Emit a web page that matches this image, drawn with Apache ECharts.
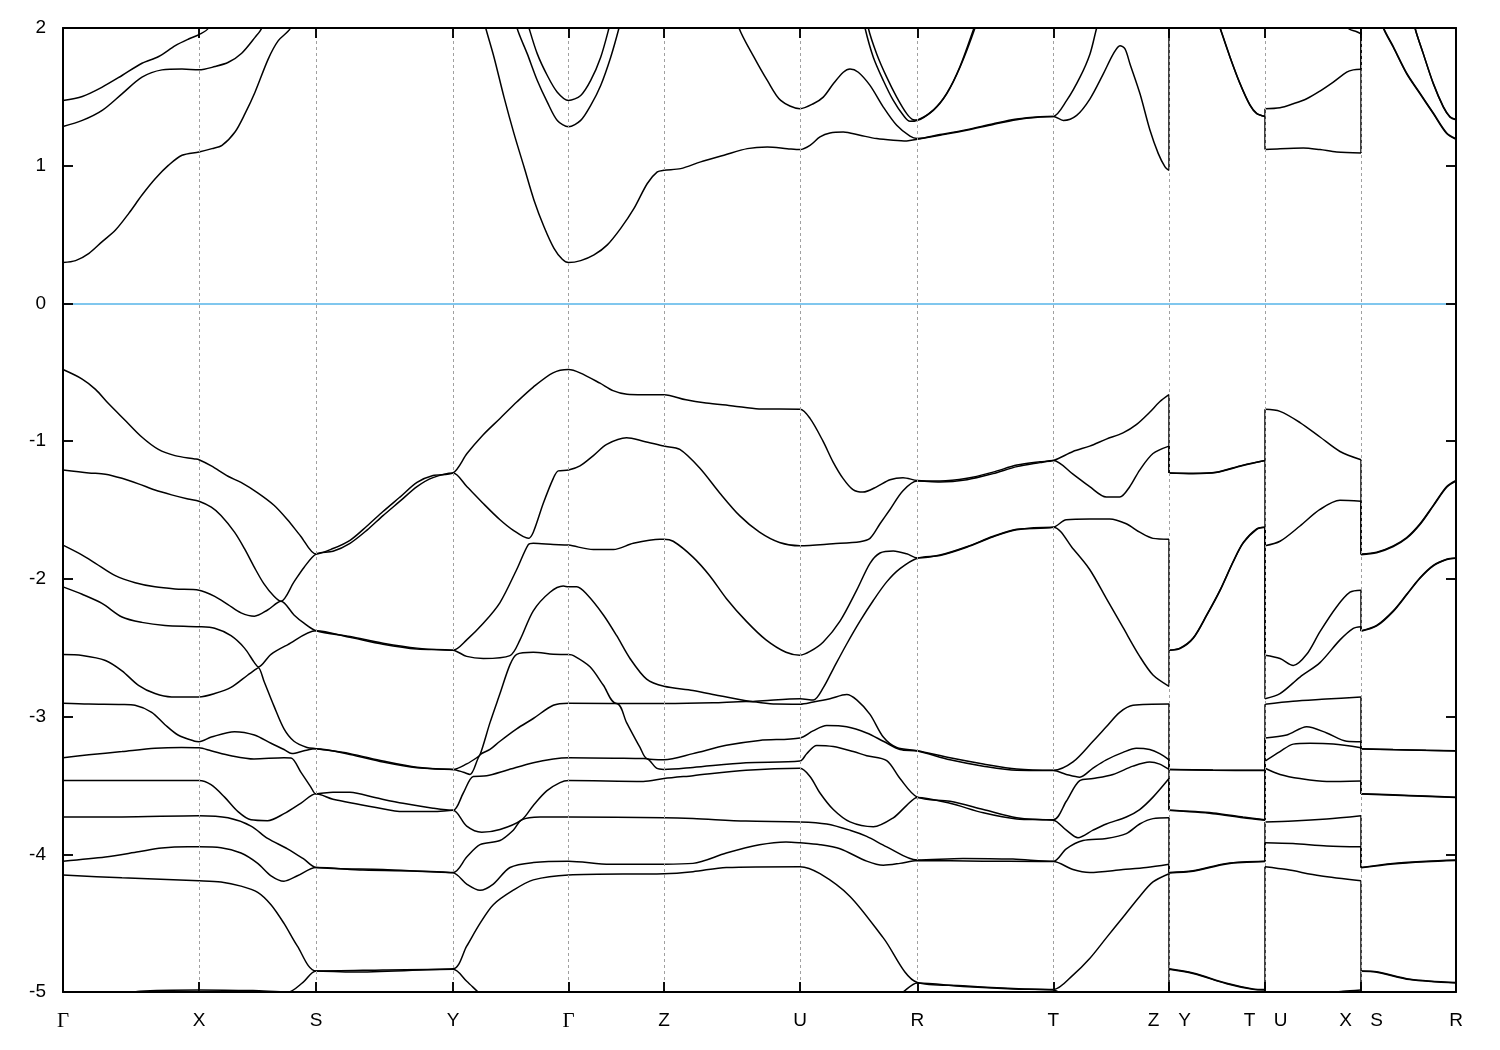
<!DOCTYPE html>
<html><head><meta charset="utf-8">
<script src="https://cdn.jsdelivr.net/npm/echarts@6/dist/echarts.min.js"></script>
<style>html,body{margin:0;padding:0;background:#fff;}#chart{width:1500px;height:1050px;}</style>
</head><body><div id="chart"></div>
<script>
// k-path coordinates of high-symmetry points
const kTicks = [0,136,253,390,505.5,601,737,854.3,990.3,1106,1202,1298,1393];
const kLabelPos = [0,136,253,390,505.5,601,737,854.3,990.3,1090.5,1121.5,1186.5,1217.5,1282.5,1313.5,1393];
const kLabels = ['Γ','X','S','Y','Γ','Z','U','R','T','Z','Y','T','U','X','S','R'];
const eTicks = [-4,-3,-2,-1,0,1];
const eMin = -5, eMax = 2;

// valence bands [k, E (eV)]
const v1 = [[0,-0.48],[19.2,-0.549],[32.5,-0.624],[45.7,-0.729],[62.3,-0.85],[78.8,-0.97],[95.4,-1.06],[112,-1.105],[131.8,-1.129],[136,-1.135],[148.3,-1.18],[165,-1.255],[178,-1.3],[194.7,-1.376],[211,-1.466],[224.5,-1.571],[237.7,-1.69],[253,-1.82],
[270,-1.78],[287,-1.72],[304,-1.616],[320,-1.511],[337,-1.406],[354,-1.3],[370,-1.25],[390,-1.231],
[404,-1.09],[420,-0.955],[437,-0.835],[454,-0.714],[470,-0.609],[490,-0.504],[505.5,-0.48],
[517,-0.504],[537,-0.579],[550,-0.633],[564,-0.66],[580,-0.663],[601,-0.663],[623,-0.7],[643,-0.723],[670,-0.744],[696,-0.766],[737,-0.769],
[747,-0.835],[760,-1.0],[770,-1.15],[780,-1.27],[790,-1.352],[800,-1.37],[814,-1.33],[827,-1.28],[840,-1.265],[854.3,-1.286],
[877,-1.29],[904,-1.27],[930,-1.225],[954,-1.174],[977,-1.15],[990.3,-1.141],
[1010,-1.075],[1026.7,-1.036],[1043.3,-0.985],[1060,-0.94],[1073.3,-0.88],[1086.7,-0.79],[1096.7,-0.714],[1106,-0.663],
[1106,-1.231],[1130,-1.234],[1153,-1.226],[1180,-1.174],[1202,-1.141],
[1202,-0.769],[1217,-0.784],[1237,-0.865],[1257,-0.97],[1277,-1.075],[1298,-1.135],
[1298,-1.82],[1313.7,-1.806],[1330.3,-1.76],[1343.7,-1.70],[1357,-1.6],[1370.3,-1.466],[1383.7,-1.33],[1393,-1.286]];
const v2 = [[0,-1.21],[25.8,-1.231],[42.4,-1.24],[59,-1.27],[75.5,-1.31],[92,-1.355],[108.6,-1.39],[125,-1.42],[136,-1.436],[148.3,-1.48],[158,-1.54],[171.5,-1.661],[181.5,-1.781],[191.4,-1.917],[201,-2.037],[211,-2.127],[218,-2.163],[231,-2.022],[241,-1.917],[253,-1.82],
[270,-1.80],[287,-1.742],[304,-1.646],[320,-1.541],[337,-1.436],[354,-1.33],[370,-1.265],[390,-1.231],
[404,-1.331],[420,-1.451],[437,-1.571],[450,-1.646],[465.3,-1.706],[470.3,-1.661],[480.3,-1.451],[490.3,-1.27],[495.3,-1.216],[505.5,-1.21],
[517,-1.18],[530.4,-1.105],[543.7,-1.024],[563.6,-0.976],[580.3,-1.0],[601,-1.036],[616.8,-1.06],[636.7,-1.195],[656.7,-1.376],[676.6,-1.541],[696.5,-1.661],[716.5,-1.736],[737,-1.76],
[770,-1.745],[797,-1.73],[807,-1.706],[817,-1.6],[827,-1.496],[840,-1.36],[854.3,-1.29],
[877,-1.297],[904,-1.28],[930,-1.236],[954,-1.185],[977,-1.156],[990.3,-1.141],
[1010,-1.24],[1026.7,-1.331],[1043.3,-1.406],[1056.7,-1.406],[1066.7,-1.331],[1076.7,-1.21],[1090,-1.09],[1106,-1.036],
[1106,-1.231],[1130,-1.236],[1153,-1.228],[1180,-1.177],[1202,-1.141],
[1202,-1.76],[1217,-1.727],[1237,-1.616],[1257,-1.496],[1277,-1.43],[1298,-1.436],
[1298,-1.825],[1313.7,-1.81],[1330.3,-1.765],[1343.7,-1.705],[1357,-1.605],[1370.3,-1.47],[1383.7,-1.335],[1393,-1.29]];
const v3 = [[0,-1.755],[19.2,-1.827],[32.5,-1.887],[52.3,-1.977],[72.2,-2.028],[92,-2.058],[112,-2.073],[136,-2.082],[151.7,-2.127],[165,-2.187],[178,-2.247],[191.4,-2.271],[204.6,-2.226],[218,-2.163],[231,-2.262],[241,-2.322],[253,-2.377],
[287,-2.419],[320,-2.467],[354,-2.503],[390,-2.518],
[403.7,-2.443],[420.3,-2.323],[437,-2.172],[453.7,-1.932],[465.3,-1.751],[470.3,-1.742],[490.3,-1.751],[505.5,-1.755],
[530.4,-1.787],[550.4,-1.787],[570.3,-1.742],[597,-1.712],[601,-1.712],[610.2,-1.727],[630,-1.842],[646.7,-1.977],[663.3,-2.142],[683.2,-2.307],[703,-2.443],[723,-2.533],[737,-2.554],
[747,-2.527],[760.3,-2.458],[777,-2.307],[793.7,-2.082],[807,-1.887],[817,-1.812],[830.3,-1.797],[843.7,-1.818],[854.3,-1.848],
[877,-1.827],[903.7,-1.767],[930.3,-1.691],[953.7,-1.64],[990.3,-1.625],
[1003.3,-1.571],[1026.7,-1.565],[1046.7,-1.565],[1063.3,-1.60],[1076.7,-1.661],[1090,-1.706],[1106,-1.712],
[1106,-2.518],[1117,-2.503],[1130.3,-2.428],[1143.7,-2.262],[1157,-2.082],[1170.3,-1.872],[1180.3,-1.736],[1193.7,-1.637],[1202,-1.625],
[1202,-2.554],[1217,-2.578],[1230.3,-2.629],[1243.7,-2.548],[1257,-2.383],[1273.7,-2.202],[1287,-2.097],[1298,-2.082],
[1298,-2.377],[1313.7,-2.338],[1330.3,-2.232],[1343.7,-2.112],[1357,-1.992],[1370.3,-1.902],[1383.7,-1.857],[1393,-1.848]];
const v4 = [[0,-2.058],[19.2,-2.112],[39,-2.178],[59,-2.277],[78.8,-2.316],[102,-2.338],[136,-2.347],[151.7,-2.359],[168,-2.413],[181.5,-2.503],[191.4,-2.608],[195.4,-2.64],[208,-2.548],[224.5,-2.479],[253,-2.377],
[287,-2.425],[320,-2.475],[354,-2.51],[390,-2.518],
[403.7,-2.563],[420.3,-2.578],[447,-2.557],[457,-2.443],[470.3,-2.232],[487,-2.097],[500.3,-2.052],[505.5,-2.058],
[513.8,-2.058],[523.8,-2.112],[540.4,-2.262],[553.7,-2.413],[567,-2.578],[583.6,-2.728],[601,-2.78],[630,-2.81],[656.7,-2.849],[683,-2.885],[690,-2.89],[700,-2.885],[737,-2.87],
[750.3,-2.88],[760.3,-2.79],[770.3,-2.653],[783.7,-2.473],[797,-2.307],[810.3,-2.157],[823.7,-2.022],[837,-1.926],[854.3,-1.85],
[877,-1.83],[903.7,-1.77],[930.3,-1.694],[953.7,-1.643],[990.3,-1.625],
[1010,-1.781],[1026.7,-1.932],[1043.3,-2.142],[1060,-2.353],[1076.7,-2.563],[1090,-2.698],[1106,-2.78],
[1106,-2.518],[1117,-2.506],[1130.3,-2.431],[1143.7,-2.265],[1157,-2.085],[1170.3,-1.875],[1180.3,-1.739],[1193.7,-1.64],[1202,-1.625],
[1202,-2.87],[1217,-2.833],[1237,-2.713],[1257,-2.608],[1277,-2.443],[1290.3,-2.359],[1298,-2.347],
[1298,-2.38],[1313.7,-2.342],[1330.3,-2.236],[1343.7,-2.116],[1357,-1.996],[1370.3,-1.906],[1383.7,-1.86],[1393,-1.85]];
const v5 = [[0,-2.55],[19.2,-2.557],[42.4,-2.593],[59,-2.668],[75.5,-2.773],[92,-2.833],[108.6,-2.857],[136,-2.857],[151.7,-2.833],[168,-2.788],[184.8,-2.698],[193,-2.655],[195.4,-2.645],[201,-2.743],[211,-2.924],[221,-3.089],[231,-3.179],[244,-3.224],[253,-3.233],
[287,-3.269],[320,-3.323],[354,-3.368],[390,-3.384],
[403.7,-3.344],[413.7,-3.299],[417,-3.278],[427,-3.044],[437,-2.833],[447,-2.623],[453.7,-2.548],[470.3,-2.533],[490.3,-2.548],[505.5,-2.55],
[510.5,-2.557],[527,-2.638],[540.4,-2.773],[553.5,-2.905],[601,-2.905],[650,-2.9],[683,-2.89],[690,-2.893],[713,-2.909],[737,-2.91],
[750.3,-2.894],[767,-2.87],[783.7,-2.84],[793.7,-2.879],[807,-2.984],[820.3,-3.149],[833.7,-3.225],[854.3,-3.248],
[887,-3.299],[920.3,-3.344],[953.7,-3.381],[990.3,-3.39],
[1010,-3.329],[1030,-3.179],[1043.3,-3.074],[1056.7,-2.969],[1070,-2.918],[1106,-2.909],
[1106,-3.384],[1150,-3.388],[1202,-3.39],
[1202,-2.91],[1230,-2.888],[1263,-2.873],[1298,-2.857],
[1298,-3.233],[1330,-3.24],[1363,-3.245],[1393,-3.248]];
const v6 = [[0,-2.903],[25.8,-2.909],[59,-2.912],[72,-2.918],[88.7,-2.969],[102,-3.059],[115,-3.134],[131.8,-3.179],[136,-3.182],[148.3,-3.149],[171.5,-3.11],[191.4,-3.134],[208,-3.194],[221,-3.239],[229,-3.269],[241,-3.248],[253,-3.233],
[287,-3.275],[320,-3.33],[354,-3.372],[390,-3.384],
[400.3,-3.404],[407,-3.42],[417,-3.278],[427,-3.239],[437,-3.179],[453.7,-3.089],[470.3,-3.014],[490.3,-2.918],[505.5,-2.903],
[553.5,-2.905],[563.6,-3.044],[577,-3.224],[584,-3.306],[601,-3.314],[630,-3.269],[663.3,-3.209],[696.5,-3.173],[737,-3.155],
[750,-3.104],[763.7,-3.065],[783.7,-3.074],[803.7,-3.119],[820.3,-3.179],[837,-3.239],[854.3,-3.25],
[887,-3.314],[920.3,-3.36],[953.7,-3.39],[990.3,-3.392],
[1003.3,-3.42],[1016.7,-3.44],[1030,-3.374],[1043.3,-3.314],[1060,-3.26],[1073.3,-3.23],[1086.7,-3.239],[1096.7,-3.269],[1106,-3.314],
[1106,-3.384],[1150,-3.39],[1202,-3.392],
[1202,-3.155],[1223.7,-3.134],[1243.7,-3.074],[1263.7,-3.119],[1283.7,-3.179],[1298,-3.182],
[1298,-3.236],[1393,-3.25]];
const v7 = [[0,-3.299],[25.8,-3.278],[59,-3.254],[92,-3.23],[118.5,-3.224],[136,-3.227],[148,-3.248],[168,-3.284],[191,-3.308],[221,-3.299],[228,-3.3],[238,-3.405],[247.7,-3.51],[253,-3.561],
[270,-3.549],[287,-3.55],[313,-3.59],[340,-3.63],[370,-3.665],[390,-3.681],
[400.3,-3.555],[410.3,-3.435],[423.7,-3.43],[443.7,-3.39],[470.3,-3.335],[490.3,-3.308],[505.5,-3.299],
[580.3,-3.305],[584,-3.306],[593.5,-3.375],[601,-3.384],[630,-3.369],[683,-3.335],[737,-3.323],
[743.7,-3.27],[753.7,-3.21],[770.3,-3.218],[790.3,-3.254],[803.7,-3.284],[823.7,-3.32],[837,-3.45],[854.3,-3.585],
[887,-3.615],[920.3,-3.675],[953.7,-3.735],[990.3,-3.75],
[1003.3,-3.615],[1016.7,-3.465],[1030,-3.45],[1050,-3.42],[1070,-3.36],[1086.7,-3.33],[1096.7,-3.345],[1106,-3.384],
[1106,-3.681],[1150,-3.7],[1180,-3.73],[1202,-3.75],
[1202,-3.323],[1217,-3.254],[1230.3,-3.2],[1247,-3.194],[1270.3,-3.2],[1298,-3.227],
[1298,-3.561],[1330,-3.568],[1363,-3.577],[1393,-3.585]];
const v8 = [[0,-3.465],[59,-3.465],[136,-3.465],[148,-3.495],[161.6,-3.585],[175,-3.69],[188,-3.75],[204.6,-3.756],[221,-3.705],[237.7,-3.63],[253,-3.561],
[270,-3.6],[313,-3.66],[340,-3.69],[370,-3.69],[390,-3.681],
[403.7,-3.796],[418.7,-3.84],[437,-3.82],[458.7,-3.75],[470.3,-3.645],[483.7,-3.54],[497,-3.48],[505.5,-3.465],
[580.3,-3.471],[601,-3.45],[630,-3.429],[683,-3.39],[737,-3.375],
[747,-3.435],[757,-3.555],[770.3,-3.675],[787,-3.765],[810.3,-3.80],[830.3,-3.735],[843.7,-3.645],[854.3,-3.587],
[887,-3.63],[920.3,-3.699],[953.7,-3.744],[990.3,-3.752],
[1003.3,-3.825],[1015,-3.88],[1030,-3.825],[1043.3,-3.78],[1063.3,-3.729],[1076.7,-3.675],[1090,-3.585],[1106,-3.45],
[1106,-3.681],[1150,-3.705],[1180,-3.735],[1202,-3.752],
[1202,-3.375],[1217,-3.42],[1237,-3.45],[1263.7,-3.471],[1298,-3.467],
[1298,-3.563],[1393,-3.587]];
const v9 = [[0,-3.729],[59,-3.729],[136,-3.72],[165,-3.735],[188,-3.795],[204.6,-3.885],[224.5,-3.96],[241,-4.036],[253,-4.096],
[320,-4.11],[390,-4.132],
[403.7,-4.02],[417,-3.93],[437,-3.9],[450.3,-3.825],[458.7,-3.75],[477,-3.729],[505.5,-3.729],
[601,-3.735],[630,-3.741],[683,-3.759],[737,-3.765],
[763.7,-3.78],[787,-3.825],[803.7,-3.87],[823.7,-3.946],[854.3,-4.042],
[900,-4.03],[950,-4.035],[990.3,-4.051],
[1003.3,-3.96],[1020,-3.9],[1043.3,-3.885],[1063.3,-3.85],[1076.7,-3.78],[1090,-3.741],[1106,-3.735],
[1106,-4.132],[1130,-4.12],[1163.7,-4.066],[1202,-4.051],
[1202,-3.765],[1230,-3.759],[1263.7,-3.744],[1298,-3.72],
[1298,-4.096],[1330,-4.066],[1363,-4.051],[1393,-4.042]];
const v10 = [[0,-4.05],[42.4,-4.02],[75.5,-3.982],[98.7,-3.955],[125,-3.946],[136,-3.946],[158,-3.952],[178,-3.991],[194.7,-4.066],[208,-4.156],[221,-4.195],[234.4,-4.156],[253,-4.096],
[300,-4.115],[390,-4.135],
[403.7,-4.216],[417,-4.261],[430.3,-4.216],[447,-4.096],[470.3,-4.06],[505.5,-4.05],
[547,-4.072],[601,-4.072],[630,-4.066],[663.3,-3.991],[696.5,-3.931],[723,-3.91],[737,-3.916],
[757,-3.93],[777,-3.96],[803.7,-4.05],[820.3,-4.08],[837,-4.066],[854.3,-4.045],
[920,-4.05],[990.3,-4.053],
[1010,-4.111],[1026.7,-4.132],[1060,-4.111],[1083.3,-4.096],[1106,-4.072],
[1106,-4.135],[1130,-4.123],[1163.7,-4.07],[1202,-4.053],
[1202,-3.916],[1230,-3.922],[1263.7,-3.94],[1298,-3.946],
[1298,-4.098],[1330,-4.07],[1363,-4.054],[1393,-4.045]];
const v11 = [[0,-4.15],[59,-4.171],[136,-4.192],[158,-4.201],[178,-4.231],[194.7,-4.276],[208,-4.366],[221,-4.502],[234.4,-4.667],[253,-4.847],
[320,-4.84],[390,-4.832],
[403.7,-4.667],[417,-4.502],[430.3,-4.366],[450.3,-4.261],[470.3,-4.186],[505.5,-4.15],
[601,-4.141],[630,-4.126],[663.3,-4.096],[737,-4.09],
[757,-4.141],[787,-4.306],[820.3,-4.607],[854.3,-4.931],
[900,-4.955],[950,-4.975],[990.3,-4.982],
[1010,-4.877],[1026.7,-4.757],[1043.3,-4.607],[1060,-4.457],[1076.7,-4.306],[1090,-4.201],[1106,-4.141],
[1106,-4.832],[1130,-4.862],[1163.7,-4.937],[1190,-4.978],[1202,-4.982],
[1202,-4.09],[1223.7,-4.111],[1257,-4.156],[1298,-4.192],
[1298,-4.847],[1313.7,-4.853],[1347,-4.907],[1393,-4.931]];
const v12 = [[0,-5.15],[50,-5.04],[77,-4.995],[136,-4.985],[190,-4.99],[225,-5.0],[240,-4.93],[253,-4.847],
[290,-4.855],[390,-4.835],
[403.7,-4.922],[415,-5.0],[430,-5.1],[460,-5.2],[505.5,-5.25],
[601,-5.3],[737,-5.3],
[800,-5.2],[840,-5.0],[854.3,-4.935],
[900,-4.96],[950,-4.978],[990.3,-4.985],
[1000,-5.02],[1030,-5.15],[1106,-5.3],
[1106,-4.835],[1130,-4.865],[1163.7,-4.94],[1190,-4.981],[1202,-4.985],
[1202,-5.3],[1240,-5.1],[1263,-5.01],[1280,-4.995],[1298,-4.985],
[1298,-4.85],[1313.7,-4.856],[1347,-4.91],[1393,-4.935]];

// conduction bands
const c1 = [[0,0.297],[12.6,0.311],[26,0.364],[39.2,0.449],[52.5,0.533],[65.8,0.654],[79,0.787],[92.4,0.907],[105.6,1.004],[119,1.076],[136,1.1],[149,1.124],[159,1.148],[172,1.245],[182,1.378],[192,1.534],[205.3,1.776],[215.3,1.908],[227,1.993],[240,2.2],[253,2.4],
[390,2.6],
[410,2.35],[422.7,2.0],[431,1.788],[441,1.498],[451,1.233],[461,0.992],[471,0.75],[481,0.557],[491,0.4],[499.3,0.321],[505.5,0.297],[517.7,0.311],[531,0.352],[544.3,0.425],[557.7,0.545],[571,0.69],[584.3,0.871],[594.3,0.955],[601,0.967],[617.7,0.979],[637.7,1.028],[661,1.076],[684.3,1.124],[704.3,1.136],[724.3,1.124],[737,1.117],
[747,1.148],[757,1.209],[767,1.238],[780.3,1.245],[797,1.221],[813.7,1.197],[830.3,1.185],[843.7,1.18],[854.3,1.192],
[877,1.221],[903.7,1.257],[930.3,1.3],[953.7,1.334],[977,1.353],[990.3,1.358],
[1000.3,1.329],[1013.7,1.366],[1027,1.486],[1040.3,1.667],[1050.3,1.812],[1057,1.872],[1062,1.848],[1067,1.739],[1077,1.522],[1087,1.257],[1095.3,1.088],[1102,0.992],[1106,0.967],
[1106,2.6],[1140,2.36],[1157,2.0],[1167,1.788],[1177,1.595],[1187,1.438],[1193.7,1.378],[1202,1.358],
[1202,1.117],[1217,1.124],[1240.3,1.129],[1257,1.117],[1273.7,1.1],[1298,1.093],
[1298,2.6],[1310,2.25],[1320.3,2.0],[1330.3,1.86],[1343.7,1.667],[1357,1.522],[1370.3,1.378],[1383.7,1.233],[1393,1.192]];
const c2 = [[0,1.285],[19.3,1.329],[39.2,1.402],[59,1.522],[79,1.643],[99,1.696],[119,1.703],[136,1.696],[152,1.72],[165.4,1.751],[178.7,1.817],[192,1.932],[198.7,2.0],[210,2.3],[253,2.8],
[390,2.8],
[440,2.4],[454,2.0],[464.3,1.812],[474.3,1.619],[484.3,1.462],[494.3,1.329],[505.5,1.283],[517.7,1.329],[527.7,1.438],[537.7,1.583],[547.7,1.788],[556,2.0],[570,2.4],
[601,2.6],[660,2.4],[676,2.0],[691,1.788],[704.3,1.619],[717.7,1.474],[737,1.414],
[750.3,1.45],[760.3,1.498],[770.3,1.595],[780.3,1.679],[787,1.703],[795.3,1.679],[807,1.583],[820.3,1.426],[833.7,1.293],[847,1.214],[854.3,1.197],
[877,1.226],[903.7,1.262],[930.3,1.305],[953.7,1.339],[977,1.356],[990.3,1.358],
[1003.7,1.474],[1017,1.643],[1027,1.812],[1033.7,2.0],[1050,2.4],[1106,2.8],
[1106,2.8],[1140,2.37],[1157,2.003],[1167,1.79],[1177,1.598],[1187,1.441],[1193.7,1.38],[1202,1.358],
[1202,1.414],[1217,1.421],[1230.3,1.45],[1243.7,1.486],[1257,1.542],[1270.3,1.607],[1283.7,1.679],[1290.3,1.696],[1298,1.701],
[1298,2.8],[1310,2.255],[1320.3,2.005],[1330.3,1.865],[1343.7,1.672],[1357,1.527],[1370.3,1.383],[1383.7,1.238],[1393,1.197]];
const c3 = [[0,1.474],[19.3,1.503],[39.2,1.571],[59,1.655],[79,1.744],[95.7,1.793],[112.3,1.872],[125.6,1.92],[136,1.952],[145.5,2.0],[170,2.4],[253,3.0],
[390,3.0],
[450,2.4],[466,2.0],[474.3,1.812],[484.3,1.655],[494.3,1.534],[505.5,1.474],[517.7,1.51],[527.7,1.619],[537.7,1.788],[546,2.0],[560,2.4],
[737,3.0],[790,2.4],[802,2.0],[810.3,1.788],[820.3,1.619],[830.3,1.474],[840.3,1.366],[847,1.322],[854.3,1.33],
[870.3,1.402],[883.7,1.522],[897,1.715],[912,2.0],[930,2.4],[990.3,3.0],
[1106,3.0],[1202,3.0],
[1270,2.4],[1285.3,2.0],[1293.7,1.973],[1298,1.957],
[1298,3.0],[1340,2.4],[1352,2.0],[1360.3,1.812],[1370.3,1.595],[1380.3,1.426],[1387,1.353],[1393,1.334]];
const c4 = [[0,3.2],[505.5,3.2],[737,3.2],[795,2.4],[805.3,2.0],[813.7,1.812],[823.7,1.643],[833.7,1.498],[843.7,1.378],[850.3,1.334],[854.3,1.332],
[870.3,1.405],[883.7,1.525],[897,1.72],[911,2.0],[930,2.4],[990.3,3.2],
[1106,3.2],[1202,3.2],[1298,3.2],
[1340,2.4],[1352,2.0],[1360.3,1.814],[1370.3,1.598],[1380.3,1.429],[1387,1.356],[1393,1.336]];

const bands = [v1,v2,v3,v4,v5,v6,v7,v8,v9,v10,v11,v12,c1,c2,c3,c4];

const SANS = "'Liberation Sans',Arial,sans-serif";
const SERIF = "'Liberation Serif','DejaVu Serif',serif";
const chart = echarts.init(document.getElementById('chart'), null, {renderer:'canvas'});

const GRID = {left:63, right:44, top:28, bottom:58};
const plotW = 1500 - GRID.left - GRID.right, plotH = 1050 - GRID.top - GRID.bottom;
const kMax = kTicks[kTicks.length-1];
const TICK_PX = 10;
const tickK = TICK_PX * kMax / plotW, tickE = TICK_PX * (eMax - eMin) / plotH;

// split each band into continuous pieces; path discontinuities become straight vertical joins
const series = [];
const lineBase = {type:'line', showSymbol:false, symbol:'none', clip:true, silent:true, z:3, animation:false,
                  lineStyle:{color:'#000', width:1.5}};
bands.forEach(b => {
  let cur = [b[0]];
  for (let i = 1; i < b.length; i++) {
    if (b[i][0] === b[i-1][0]) {
      series.push(Object.assign({}, lineBase, {data:cur, smooth:0.3}));
      series.push(Object.assign({}, lineBase, {data:[b[i-1], b[i]], smooth:false}));
      cur = [b[i]];
    } else cur.push(b[i]);
  }
  series.push(Object.assign({}, lineBase, {data:cur, smooth:0.3}));
});
// dashed guides at the high-symmetry points and the Fermi level
series.unshift({
  type:'line', data:[], silent:true, z:1, animation:false,
  markLine:{
    silent:true, symbol:['none','none'], animation:false, label:{show:false},
    data:[
      ...kTicks.slice(1,-1).map(v => ({xAxis:v, lineStyle:{color:'#a0a0a0', type:[3,3], width:1}})),
      {yAxis:0, lineStyle:{color:'#56b4e9', type:'solid', width:1.5}}
    ]
  }
});
// inward tick marks on all four sides, placed through the axis scales
const tickSegs = [];
eTicks.forEach(e => {
  tickSegs.push([{coord:[0, e]}, {coord:[tickK, e]}]);
  tickSegs.push([{coord:[kMax - tickK, e]}, {coord:[kMax, e]}]);
});
kTicks.slice(1,-1).forEach(k => {
  tickSegs.push([{coord:[k, eMin]}, {coord:[k, eMin + tickE]}]);
  tickSegs.push([{coord:[k, eMax - tickE]}, {coord:[k, eMax]}]);
});
series.push({
  type:'line', data:[], silent:true, z:6, animation:false,
  markLine:{silent:true, symbol:['none','none'], animation:false, label:{show:false},
    lineStyle:{color:'#000', type:'solid', width:1.5}, data:tickSegs}
});

function tick() { return {show:true, inside:true, length:TICK_PX, lineStyle:{color:'#000', width:1.5}}; }
function axLine() { return {show:true, onZero:false, lineStyle:{color:'#000', width:2}}; }

chart.setOption({
  animation:false,
  backgroundColor:'#fff',
  grid:GRID,
  xAxis:[
    {type:'value', position:'bottom', min:0, max:kMax, z:10,
     axisLine:axLine(), splitLine:{show:false},
     axisTick:Object.assign(tick(), {customValues:kTicks}),
     axisLabel:{show:true, customValues:kLabelPos, margin:19, fontSize:19, color:'#000', fontFamily:SANS,
       formatter:(v)=>{const i=kLabelPos.findIndex(p=>Math.abs(p-v)<0.01); if(i<0) return ''; return kLabels[i]==='Γ' ? '{g|Γ}' : kLabels[i];},
       rich:{g:{fontFamily:SERIF, fontSize:21, color:'#000'}}}},
    {type:'value', position:'top', min:0, max:kMax, z:10,
     axisLine:axLine(), splitLine:{show:false},
     axisTick:Object.assign(tick(), {customValues:kTicks}),
     axisLabel:{show:false}}
  ],
  yAxis:[
    {type:'value', position:'left', min:eMin, max:eMax, interval:1, z:10,
     axisLine:axLine(), splitLine:{show:false}, axisTick:tick(),
     axisLabel:{show:true, margin:17, fontSize:19, color:'#000', fontFamily:SANS}},
    {type:'value', position:'right', min:eMin, max:eMax, interval:1, z:10,
     axisLine:axLine(), splitLine:{show:false}, axisTick:tick(),
     axisLabel:{show:false}}
  ],
  series:series
});
</script></body></html>
